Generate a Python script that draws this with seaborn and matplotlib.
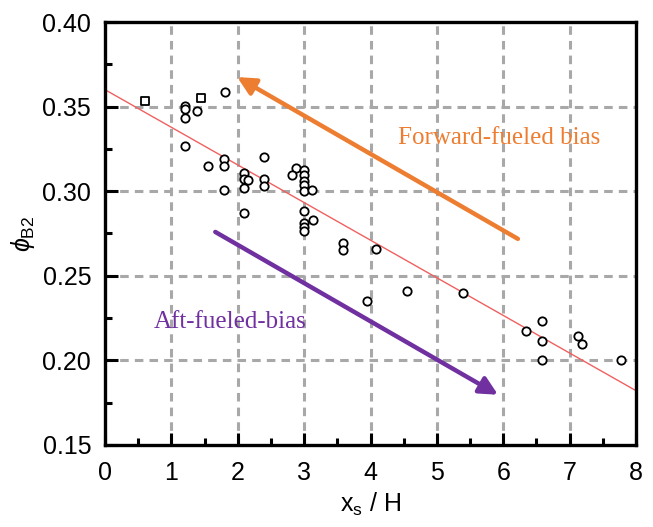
import matplotlib
matplotlib.use("Agg")
import matplotlib.pyplot as plt
import seaborn as sns
import pandas as pd
from matplotlib.ticker import MultipleLocator

# ---- data ----
circle_x = [1.20, 1.20, 1.38, 1.80, 1.20, 1.20, 1.55, 1.79, 1.79, 1.79,
            2.39, 2.09, 2.09, 2.16, 2.09, 2.39, 2.39, 2.09, 2.88, 2.82,
            2.99, 2.99, 2.99, 2.99, 2.99, 2.99, 2.99, 2.99, 2.99,
            3.12, 3.13, 3.59, 3.59, 4.08, 4.55, 3.95, 5.39,
            6.34, 6.59, 6.59, 6.59, 7.13, 7.19, 7.78]
circle_y = [0.3504, 0.3484, 0.3472, 0.3586, 0.3431, 0.3269, 0.3150, 0.3191, 0.3151, 0.3008,
            0.3204, 0.3106, 0.3073, 0.3068, 0.3018, 0.3071, 0.3028, 0.2871, 0.3137, 0.3097,
            0.3125, 0.3093, 0.3062, 0.3034, 0.3004, 0.2881, 0.2809, 0.2788, 0.2765,
            0.3008, 0.2828, 0.2695, 0.2655, 0.2659, 0.2411, 0.2348, 0.2396,
            0.2171, 0.2232, 0.2112, 0.2004, 0.2142, 0.2095, 0.1999]
square_x = [0.60, 1.44]
square_y = [0.3534, 0.3549]

fit_x = [0.0, 8.0]
fit_y = [0.360, 0.182]

fwd_arrow_start = (6.22, 0.2718)
fwd_arrow_end = (1.99, 0.3675)
aft_arrow_start = (1.66, 0.2759)
aft_arrow_end = (5.92, 0.1796)

fwd_label = "Forward-fueled bias"
aft_label = "Aft-fueled-bias"
xticks = [0, 1, 2, 3, 4, 5, 6, 7, 8]
yticks = [0.15, 0.20, 0.25, 0.30, 0.35, 0.40]

ORANGE = "#ED7D31"
PURPLE = "#7030A0"

sns.set_theme(style="white")
plt.rcParams['font.family'] = ['Liberation Sans', 'DejaVu Sans']
plt.rcParams['mathtext.fontset'] = 'custom'
plt.rcParams['mathtext.rm'] = 'Liberation Sans'
plt.rcParams['mathtext.it'] = 'Liberation Sans:italic'
plt.rcParams['text.color'] = 'black'
plt.rcParams['axes.labelcolor'] = 'black'
plt.rcParams['xtick.color'] = 'black'
plt.rcParams['ytick.color'] = 'black'

fig = plt.figure(figsize=(6.53, 5.27), dpi=100)
ax = fig.add_axes([0.161, 0.156, 0.813, 0.802])

# grid
for xv in xticks[1:-1]:
    ax.axvline(xv, color="#a8a8a8", lw=2.2, ls=(0, (2.8, 2.0)), zorder=0)
for yv in yticks[1:-1]:
    ax.axhline(yv, color="#a8a8a8", lw=2.2, ls=(0, (2.8, 2.0)), zorder=0)

# fit line
sns.lineplot(x=fit_x, y=fit_y, ax=ax, color="#f06060", lw=1.0, zorder=2)

# data points
df_c = pd.DataFrame({"x": circle_x, "y": circle_y})
df_s = pd.DataFrame({"x": square_x, "y": square_y})
sns.scatterplot(data=df_c, x="x", y="y", ax=ax, marker="o", s=36,
                facecolor="white", edgecolor="black", linewidth=1.3, zorder=3)
sns.scatterplot(data=df_s, x="x", y="y", ax=ax, marker="s", s=30,
                facecolor="white", edgecolor="black", linewidth=1.3, zorder=3)

# arrows
ax.annotate("", xy=fwd_arrow_end, xytext=fwd_arrow_start,
            arrowprops=dict(arrowstyle="-|>,head_length=0.9,head_width=0.45",
                            color=ORANGE, lw=3.2, shrinkA=0, shrinkB=0), zorder=4)
ax.annotate("", xy=aft_arrow_end, xytext=aft_arrow_start,
            arrowprops=dict(arrowstyle="-|>,head_length=0.9,head_width=0.45",
                            color=PURPLE, lw=3.2, shrinkA=0, shrinkB=0), zorder=4)

ax.text(5.93, 0.3314, fwd_label, color=ORANGE, fontsize=18,
        family=['Liberation Serif', 'DejaVu Serif'], ha="center", va="center")
ax.text(1.88, 0.2227, aft_label, color=PURPLE, fontsize=18,
        family=['Liberation Serif', 'DejaVu Serif'], ha="center", va="center")

ax.set_xlim(0, 8)
ax.set_ylim(0.15, 0.40)
ax.set_xticks(xticks)
ax.set_yticks(yticks)
ax.set_yticklabels([f"{v:.2f}" for v in yticks])
ax.xaxis.set_minor_locator(MultipleLocator(0.5))
ax.yaxis.set_minor_locator(MultipleLocator(0.025))
ax.tick_params(which="major", direction="in", length=9, width=2.2, labelsize=18,
               color="black", labelcolor="black",
               bottom=True, left=True, top=False, right=False)
ax.tick_params(axis="x", which="major", pad=12)
ax.tick_params(axis="y", which="major", pad=10)
ax.tick_params(which="minor", direction="in", length=5, width=2.2,
               color="black", bottom=True, left=True, top=False, right=False)
for sp in ax.spines.values():
    sp.set_color("black")
    sp.set_linewidth(2.4)

ax.set_xlabel(r"x$_\mathrm{s}$ / H", fontsize=18, labelpad=4, color="black")
ax.set_ylabel(r"$\mathit{\phi}_\mathrm{B2}$", fontsize=18, labelpad=4, color="black")

fig.savefig("out.png", dpi=100)
